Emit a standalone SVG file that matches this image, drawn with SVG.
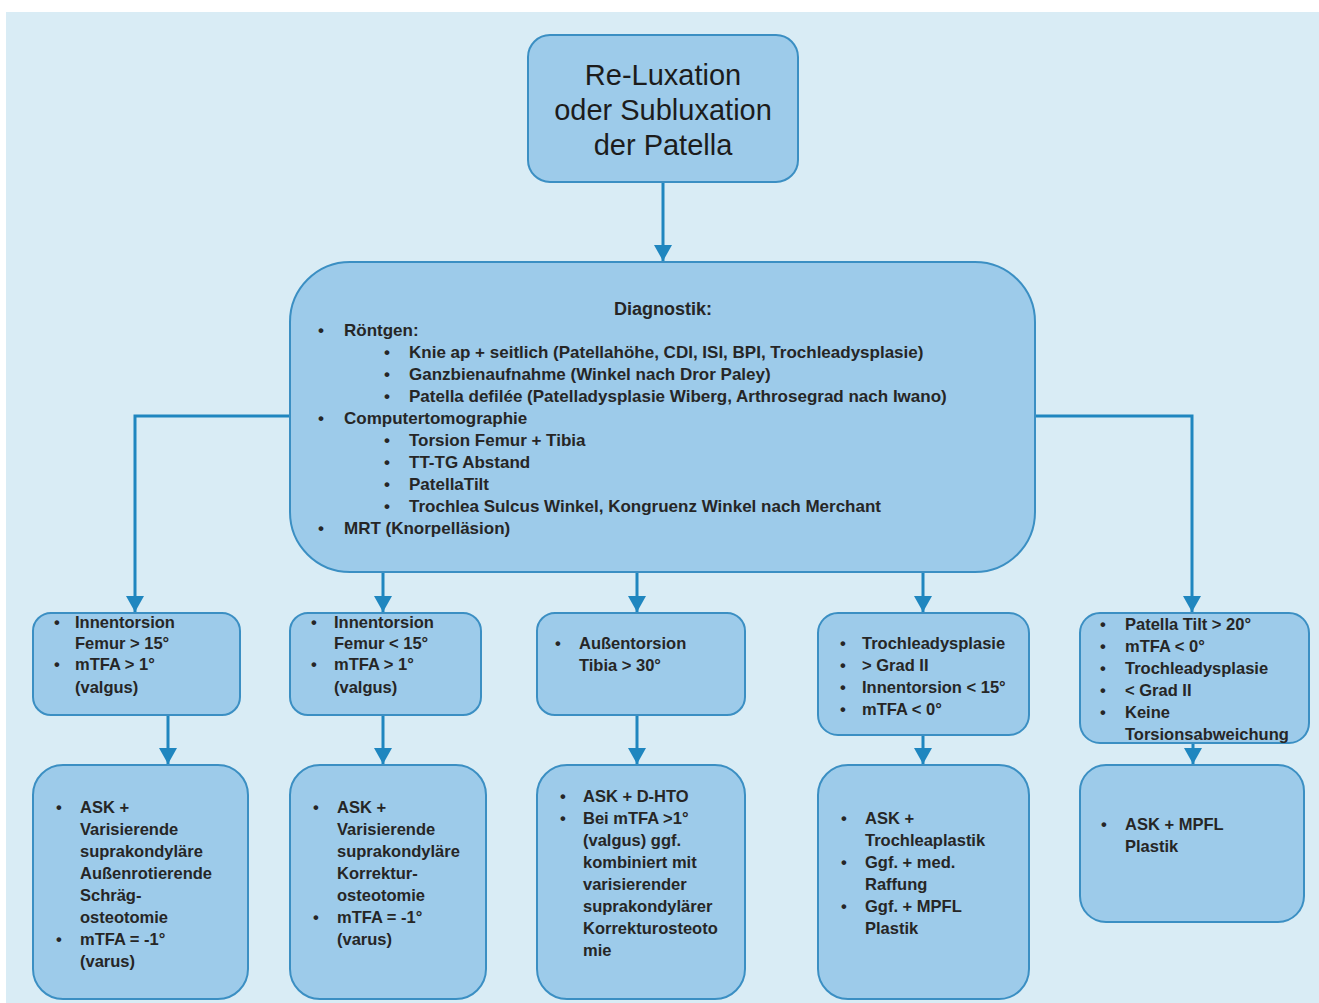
<svg xmlns="http://www.w3.org/2000/svg" width="1319" height="1003" viewBox="0 0 1319 1003">
<style>
.box{fill:#9dcbea;stroke:#3b8fc3;stroke-width:2}
.t{font-family:"Liberation Sans",Arial,sans-serif;font-size:16.5px;font-weight:bold;fill:#262626}
.d{font-size:17px}
.title{font-family:"Liberation Sans",Arial,sans-serif;font-size:29px;fill:#1c1c1c;text-anchor:middle}
.h{font-size:18px}
.con{fill:none;stroke:#1f86bf;stroke-width:3}
</style>
<defs>
<marker id="arr" markerUnits="userSpaceOnUse" markerWidth="20" markerHeight="20" viewBox="0 0 20 20" refX="18" refY="10" orient="auto">
<path d="M2 1 L18 10 L2 19 Z" fill="#1f86bf"/>
</marker>
</defs>
<rect x="0" y="0" width="1319" height="1003" fill="#ffffff"/>
<rect x="6" y="12" width="1313" height="991" fill="#d9ecf5"/>
<g id="connectors">
<path class="con" d="M663 182 V261" marker-end="url(#arr)"/>
<path class="con" d="M290 416 H135 V612" marker-end="url(#arr)"/>
<path class="con" d="M1035 416 H1192 V612" marker-end="url(#arr)"/>
<path class="con" d="M383 572 V612" marker-end="url(#arr)"/>
<path class="con" d="M637 572 V612" marker-end="url(#arr)"/>
<path class="con" d="M923 572 V612" marker-end="url(#arr)"/>
<path class="con" d="M168 715 V764" marker-end="url(#arr)"/>
<path class="con" d="M383 715 V764" marker-end="url(#arr)"/>
<path class="con" d="M637 715 V764" marker-end="url(#arr)"/>
<path class="con" d="M923 735 V764" marker-end="url(#arr)"/>
<path class="con" d="M1193 743 V764" marker-end="url(#arr)"/>
</g>
<g id="start">
<rect class="box" x="528" y="35" width="270" height="147" rx="22"/>
<text class="title" x="663" y="85">Re-Luxation</text>
<text class="title" x="663" y="120">oder Subluxation</text>
<text class="title" x="663" y="155">der Patella</text>
</g>
<g id="diagnostik">
<rect class="box" x="290" y="262" width="745" height="310" rx="60"/>
<text class="t h" x="663" y="315" text-anchor="middle">Diagnostik:</text>
<text class="t d" x="318" y="336">•</text><text class="t d" x="344" y="336">Röntgen:</text>
<text class="t d" x="384" y="358">•</text><text class="t d" x="409" y="358">Knie ap + seitlich (Patellahöhe, CDI, ISI, BPI, Trochleadysplasie)</text>
<text class="t d" x="384" y="380">•</text><text class="t d" x="409" y="380">Ganzbienaufnahme (Winkel nach Dror Paley)</text>
<text class="t d" x="384" y="402">•</text><text class="t d" x="409" y="402">Patella defilée (Patelladysplasie Wiberg, Arthrosegrad nach Iwano)</text>
<text class="t d" x="318" y="424">•</text><text class="t d" x="344" y="424">Computertomographie</text>
<text class="t d" x="384" y="446">•</text><text class="t d" x="409" y="446">Torsion Femur + Tibia</text>
<text class="t d" x="384" y="468">•</text><text class="t d" x="409" y="468">TT-TG Abstand</text>
<text class="t d" x="384" y="490">•</text><text class="t d" x="409" y="490">PatellaTilt</text>
<text class="t d" x="384" y="512">•</text><text class="t d" x="409" y="512">Trochlea Sulcus Winkel, Kongruenz Winkel nach Merchant</text>
<text class="t d" x="318" y="534">•</text><text class="t d" x="344" y="534">MRT (Knorpelläsion)</text>
</g>
<g id="c1">
<rect class="box" x="33" y="613" width="207" height="102" rx="18"/>
<text class="t" x="54" y="628">•</text><text class="t" x="75" y="628">Innentorsion</text>
<text class="t" x="75" y="649">Femur &gt; 15°</text>
<text class="t" x="54" y="670">•</text><text class="t" x="75" y="670">mTFA &gt; 1°</text>
<text class="t" x="75" y="693">(valgus)</text>
</g>
<g id="c2">
<rect class="box" x="290" y="613" width="191" height="102" rx="18"/>
<text class="t" x="311" y="628">•</text><text class="t" x="334" y="628">Innentorsion</text>
<text class="t" x="334" y="649">Femur &lt; 15°</text>
<text class="t" x="311" y="670">•</text><text class="t" x="334" y="670">mTFA &gt; 1°</text>
<text class="t" x="334" y="693">(valgus)</text>
</g>
<g id="c3">
<rect class="box" x="537" y="613" width="208" height="102" rx="18"/>
<text class="t" x="555" y="649">•</text><text class="t" x="579" y="649">Außentorsion</text>
<text class="t" x="579" y="671">Tibia &gt; 30°</text>
</g>
<g id="c4">
<rect class="box" x="818" y="613" width="211" height="122" rx="20"/>
<text class="t" x="840" y="649">•</text><text class="t" x="862" y="649">Trochleadysplasie</text>
<text class="t" x="840" y="671">•</text><text class="t" x="862" y="671">&gt; Grad II</text>
<text class="t" x="840" y="693">•</text><text class="t" x="862" y="693">Innentorsion &lt; 15°</text>
<text class="t" x="840" y="715">•</text><text class="t" x="862" y="715">mTFA &lt; 0°</text>
</g>
<g id="c5">
<rect class="box" x="1080" y="613" width="229" height="130" rx="20"/>
<text class="t" x="1100" y="630">•</text><text class="t" x="1125" y="630">Patella Tilt &gt; 20°</text>
<text class="t" x="1100" y="652">•</text><text class="t" x="1125" y="652">mTFA &lt; 0°</text>
<text class="t" x="1100" y="674">•</text><text class="t" x="1125" y="674">Trochleadysplasie</text>
<text class="t" x="1100" y="696">•</text><text class="t" x="1125" y="696">&lt; Grad II</text>
<text class="t" x="1100" y="718">•</text><text class="t" x="1125" y="718">Keine</text>
<text class="t" x="1125" y="740">Torsionsabweichung</text>
</g>
<g id="t1">
<rect class="box" x="33" y="765" width="215" height="234" rx="30"/>
<text class="t" x="56" y="813">•</text><text class="t" x="80" y="813">ASK +</text>
<text class="t" x="80" y="835">Varisierende</text>
<text class="t" x="80" y="857">suprakondyläre</text>
<text class="t" x="80" y="879">Außenrotierende</text>
<text class="t" x="80" y="901">Schräg-</text>
<text class="t" x="80" y="923">osteotomie</text>
<text class="t" x="56" y="945">•</text><text class="t" x="80" y="945">mTFA = -1°</text>
<text class="t" x="80" y="967">(varus)</text>
</g>
<g id="t2">
<rect class="box" x="290" y="765" width="196" height="234" rx="30"/>
<text class="t" x="313" y="813">•</text><text class="t" x="337" y="813">ASK +</text>
<text class="t" x="337" y="835">Varisierende</text>
<text class="t" x="337" y="857">suprakondyläre</text>
<text class="t" x="337" y="879">Korrektur-</text>
<text class="t" x="337" y="901">osteotomie</text>
<text class="t" x="313" y="923">•</text><text class="t" x="337" y="923">mTFA = -1°</text>
<text class="t" x="337" y="945">(varus)</text>
</g>
<g id="t3">
<rect class="box" x="537" y="765" width="208" height="234" rx="30"/>
<text class="t" x="560" y="802">•</text><text class="t" x="583" y="802">ASK + D-HTO</text>
<text class="t" x="560" y="824">•</text><text class="t" x="583" y="824">Bei mTFA &gt;1°</text>
<text class="t" x="583" y="846">(valgus) ggf.</text>
<text class="t" x="583" y="868">kombiniert mit</text>
<text class="t" x="583" y="890">varisierender</text>
<text class="t" x="583" y="912">suprakondylärer</text>
<text class="t" x="583" y="934">Korrekturosteoto</text>
<text class="t" x="583" y="956">mie</text>
</g>
<g id="t4">
<rect class="box" x="818" y="765" width="211" height="234" rx="30"/>
<text class="t" x="841" y="824">•</text><text class="t" x="865" y="824">ASK +</text>
<text class="t" x="865" y="846">Trochleaplastik</text>
<text class="t" x="841" y="868">•</text><text class="t" x="865" y="868">Ggf. + med.</text>
<text class="t" x="865" y="890">Raffung</text>
<text class="t" x="841" y="912">•</text><text class="t" x="865" y="912">Ggf. + MPFL</text>
<text class="t" x="865" y="934">Plastik</text>
</g>
<g id="t5">
<rect class="box" x="1080" y="765" width="224" height="157" rx="26"/>
<text class="t" x="1101" y="830">•</text><text class="t" x="1125" y="830">ASK + MPFL</text>
<text class="t" x="1125" y="852">Plastik</text>
</g>
</svg>
